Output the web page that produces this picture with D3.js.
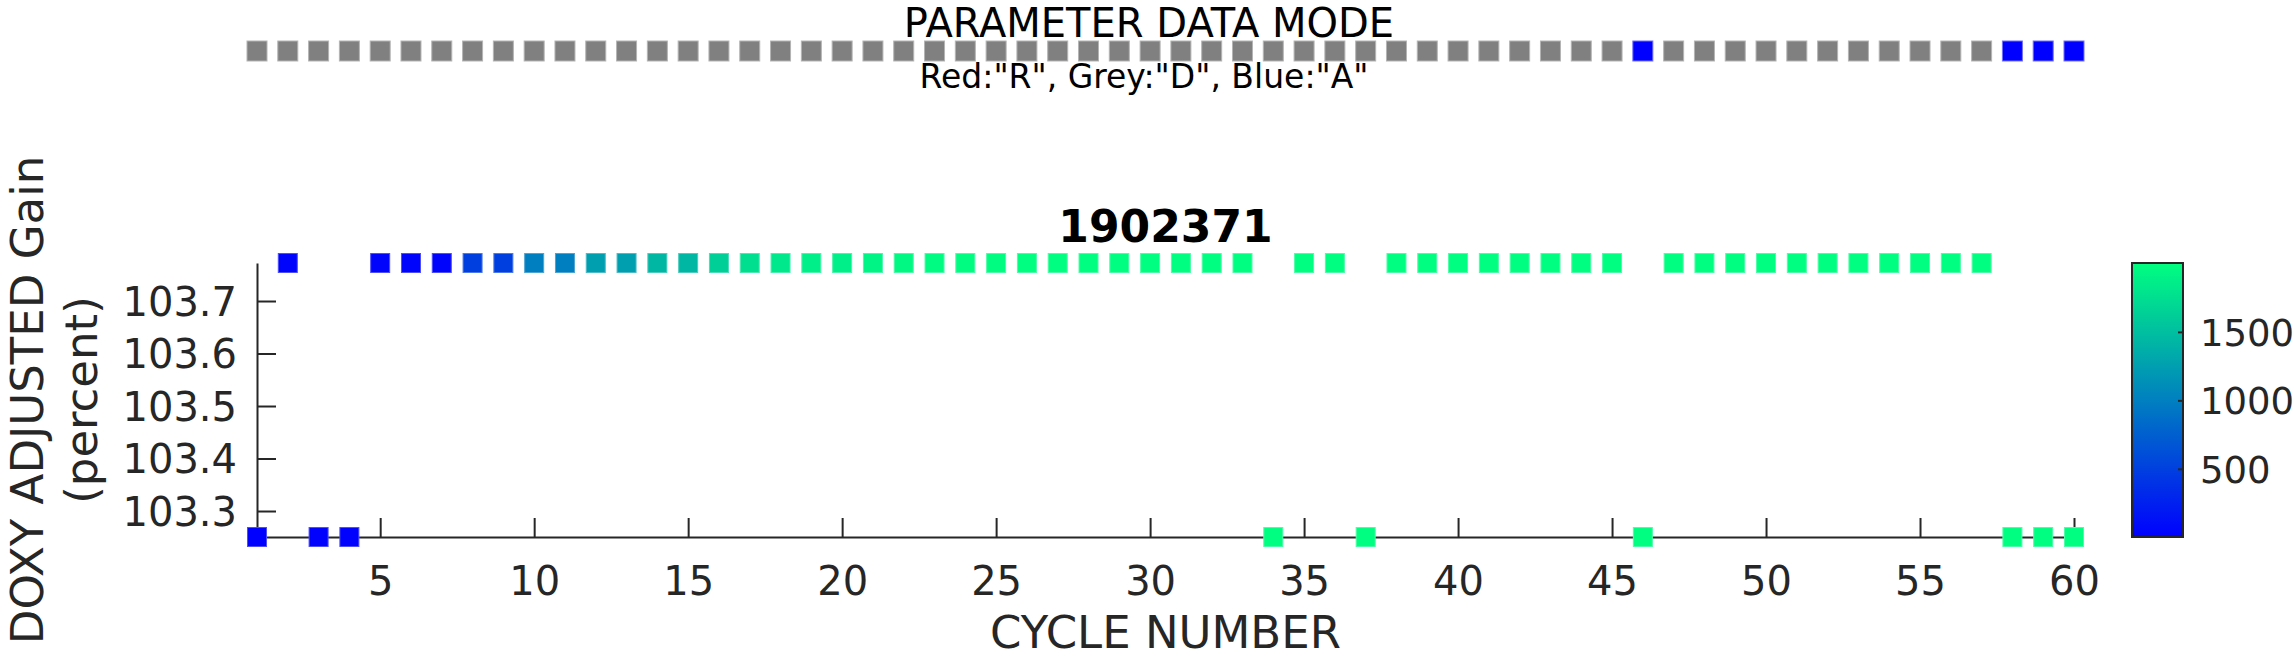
<!DOCTYPE html>
<html>
<head>
<meta charset="utf-8">
<script src="https://cdn.jsdelivr.net/npm/d3@7"></script>
<style>
  html, body { margin: 0; padding: 0; background: #ffffff; }
  svg { display: block; font-family: "DejaVu Sans", sans-serif; }
</style>
</head>
<body>
<svg id="chart" width="2294" height="660"></svg>
<script>
// ---------------- DATA ----------------
const cycles = [1,2,3,4,5,6,7,8,9,10,11,12,13,14,15,16,17,18,19,20,
                21,22,23,24,25,26,27,28,29,30,31,32,33,34,35,36,37,38,39,40,
                41,42,43,44,45,46,47,48,49,50,51,52,53,54,55,56,57,58,59,60];
// DOXY ADJUSTED gain (percent) per cycle
const gainValues = [103.2505,103.7724,103.2505,103.2505,103.7724,103.7724,103.7724,103.7724,103.7724,103.7724,
                    103.7724,103.7724,103.7724,103.7724,103.7724,103.7724,103.7724,103.7724,103.7724,103.7724,
                    103.7724,103.7724,103.7724,103.7724,103.7724,103.7724,103.7724,103.7724,103.7724,103.7724,
                    103.7724,103.7724,103.7724,103.2505,103.7724,103.7724,103.2505,103.7724,103.7724,103.7724,
                    103.7724,103.7724,103.7724,103.7724,103.7724,103.2505,103.7724,103.7724,103.7724,103.7724,
                    103.7724,103.7724,103.7724,103.7724,103.7724,103.7724,103.7724,103.2505,103.2505,103.2505];
// colour-coded value per cycle (colorbar)
const colorValues = [2,30,20,20,30,30,30,500,500,1000,
                     1000,1250,1250,1440,1440,1630,1750,1820,1880,1880,
                     1920,1950,1970,1980,1990,1995,2000,2000,2000,2000,
                     2000,2003,2003,2003,2003,2003,2003,2003,2003,2003,
                     2003,2003,2003,2003,2003,2003,2003,2003,2003,2003,
                     2003,2003,2003,2003,2003,2003,2003,2003,2003,2003];
// parameter data mode per cycle
const dataModes = ["D","D","D","D","D","D","D","D","D","D",
                   "D","D","D","D","D","D","D","D","D","D",
                   "D","D","D","D","D","D","D","D","D","D",
                   "D","D","D","D","D","D","D","D","D","D",
                   "D","D","D","D","D","A","D","D","D","D",
                   "D","D","D","D","D","D","D","A","A","A"];
const xTicks = [5,10,15,20,25,30,35,40,45,50,55,60];
const yTicks = [103.3,103.4,103.5,103.6,103.7];
const cTicks = [500,1000,1500];
const floatId = "1902371";
const modeColors = {R: "#ff0000", D: "#808080", A: "#0000ff"};

// ---------------- LAYOUT ----------------
const svg = d3.select("#chart");
const axisColor = "#262626";
const plot = {left: 257, right: 2074, top: 263, bottom: 537};

const x = d3.scaleLinear().domain([d3.min(cycles), d3.max(cycles)]).range([plot.left, plot.right]);
const y = d3.scaleLinear().domain(d3.extent(gainValues)).range([plot.bottom, plot.top]);
const cExtent = d3.extent(colorValues);
const color = d3.scaleLinear().domain(cExtent).range(["#0000ff", "#00ff80"]).interpolate(d3.interpolateRgb);

const points = cycles.map((c, i) => ({c, g: gainValues[i], v: colorValues[i], m: dataModes[i]}));

// ---------------- DATA MODE STRIP ----------------
svg.append("text")
  .attr("x", 1149).attr("y", 37)
  .attr("text-anchor", "middle")
  .attr("font-size", 40)
  .attr("fill", "#000")
  .text("PARAMETER DATA MODE");

const stripSize = 20;
svg.append("g").selectAll("rect")
  .data(points).join("rect")
  .attr("x", d => x(d.c) - stripSize / 2)
  .attr("y", 51 - stripSize / 2)
  .attr("width", stripSize).attr("height", stripSize)
  .attr("fill", d => modeColors[d.m])
  .attr("stroke", d => d.m === "A" ? "#6f6fff" : "#b4b4b4")
  .attr("stroke-width", 1);

svg.append("text")
  .attr("x", 1144).attr("y", 88)
  .attr("text-anchor", "middle")
  .attr("font-size", 33)
  .attr("fill", "#000")
  .text('Red:"R", Grey:"D", Blue:"A"');

// ---------------- MAIN AXES ----------------
svg.append("text")
  .attr("x", (plot.left + plot.right) / 2).attr("y", 242)
  .attr("text-anchor", "middle")
  .attr("font-size", 44).attr("font-weight", "bold")
  .attr("fill", "#000")
  .text(floatId);

const xAxis = svg.append("g")
  .attr("transform", `translate(0,${plot.bottom})`)
  .call(d3.axisBottom(x).tickValues(xTicks).tickSizeInner(-19).tickSizeOuter(0).tickPadding(0).tickFormat(d3.format("d")));
xAxis.select(".domain").attr("stroke", axisColor).attr("stroke-width", 2);
xAxis.selectAll(".tick line").attr("stroke", axisColor).attr("stroke-width", 2);
xAxis.selectAll(".tick text")
  .attr("y", 58).attr("dy", 0)
  .attr("font-size", 40).attr("font-family", "DejaVu Sans")
  .attr("fill", axisColor);

const yAxis = svg.append("g")
  .attr("transform", `translate(${plot.left},0)`)
  .call(d3.axisLeft(y).tickValues(yTicks).tickSizeInner(-19).tickSizeOuter(0).tickPadding(0).tickFormat(d3.format(".1f")));
yAxis.select(".domain").attr("stroke", axisColor).attr("stroke-width", 2);
yAxis.selectAll(".tick line").attr("stroke", axisColor).attr("stroke-width", 2);
yAxis.selectAll(".tick text")
  .attr("x", -20).attr("dy", "0.36em")
  .attr("font-size", 40).attr("font-family", "DejaVu Sans")
  .attr("fill", axisColor);

// markers
const mSize = 19;
svg.append("g").selectAll("rect")
  .data(points).join("rect")
  .attr("x", d => x(d.c) - mSize / 2)
  .attr("y", d => y(d.g) - mSize / 2)
  .attr("width", mSize).attr("height", mSize)
  .attr("fill", d => color(d.v))
  .attr("stroke", d => d3.interpolateRgb(color(d.v), "#ffffff")(0.3))
  .attr("stroke-width", 1);

// axis labels
svg.append("text")
  .attr("x", (plot.left + plot.right) / 2).attr("y", 648)
  .attr("text-anchor", "middle")
  .attr("font-size", 45).attr("fill", axisColor)
  .text("CYCLE NUMBER");

const yLab = svg.append("g");
yLab.append("text")
  .attr("transform", `translate(43,${(plot.top + plot.bottom) / 2}) rotate(-90)`)
  .attr("text-anchor", "middle")
  .attr("font-size", 45).attr("fill", axisColor)
  .text("DOXY ADJUSTED Gain");
yLab.append("text")
  .attr("transform", `translate(97,${(plot.top + plot.bottom) / 2}) rotate(-90)`)
  .attr("text-anchor", "middle")
  .attr("font-size", 45).attr("fill", axisColor)
  .text("(percent)");

// ---------------- COLORBAR ----------------
const cb = {left: 2132, right: 2183, top: plot.top, bottom: plot.bottom};
const cy = d3.scaleLinear().domain(cExtent).range([cb.bottom, cb.top]);
const defs = svg.append("defs");
const grad = defs.append("linearGradient")
  .attr("id", "cbgrad").attr("x1", 0).attr("y1", 1).attr("x2", 0).attr("y2", 0);
grad.selectAll("stop")
  .data(d3.range(0, 1.0001, 0.1)).join("stop")
  .attr("offset", t => t)
  .attr("stop-color", t => color(cExtent[0] + t * (cExtent[1] - cExtent[0])));

svg.append("rect")
  .attr("x", cb.left).attr("y", cb.top)
  .attr("width", cb.right - cb.left).attr("height", cb.bottom - cb.top)
  .attr("fill", "url(#cbgrad)")
  .attr("stroke", axisColor).attr("stroke-width", 2);

const cAxis = svg.append("g")
  .attr("transform", `translate(${cb.right},0)`)
  .call(d3.axisRight(cy).tickValues(cTicks).tickSizeInner(-5).tickSizeOuter(0).tickPadding(0).tickFormat(d3.format("d")));
cAxis.select(".domain").remove();
cAxis.selectAll(".tick line").attr("stroke", axisColor).attr("stroke-width", 2);
cAxis.selectAll(".tick text")
  .attr("x", 17).attr("dy", "0.36em")
  .attr("font-size", 37).attr("font-family", "DejaVu Sans")
  .attr("fill", axisColor);
</script>
</body>
</html>
